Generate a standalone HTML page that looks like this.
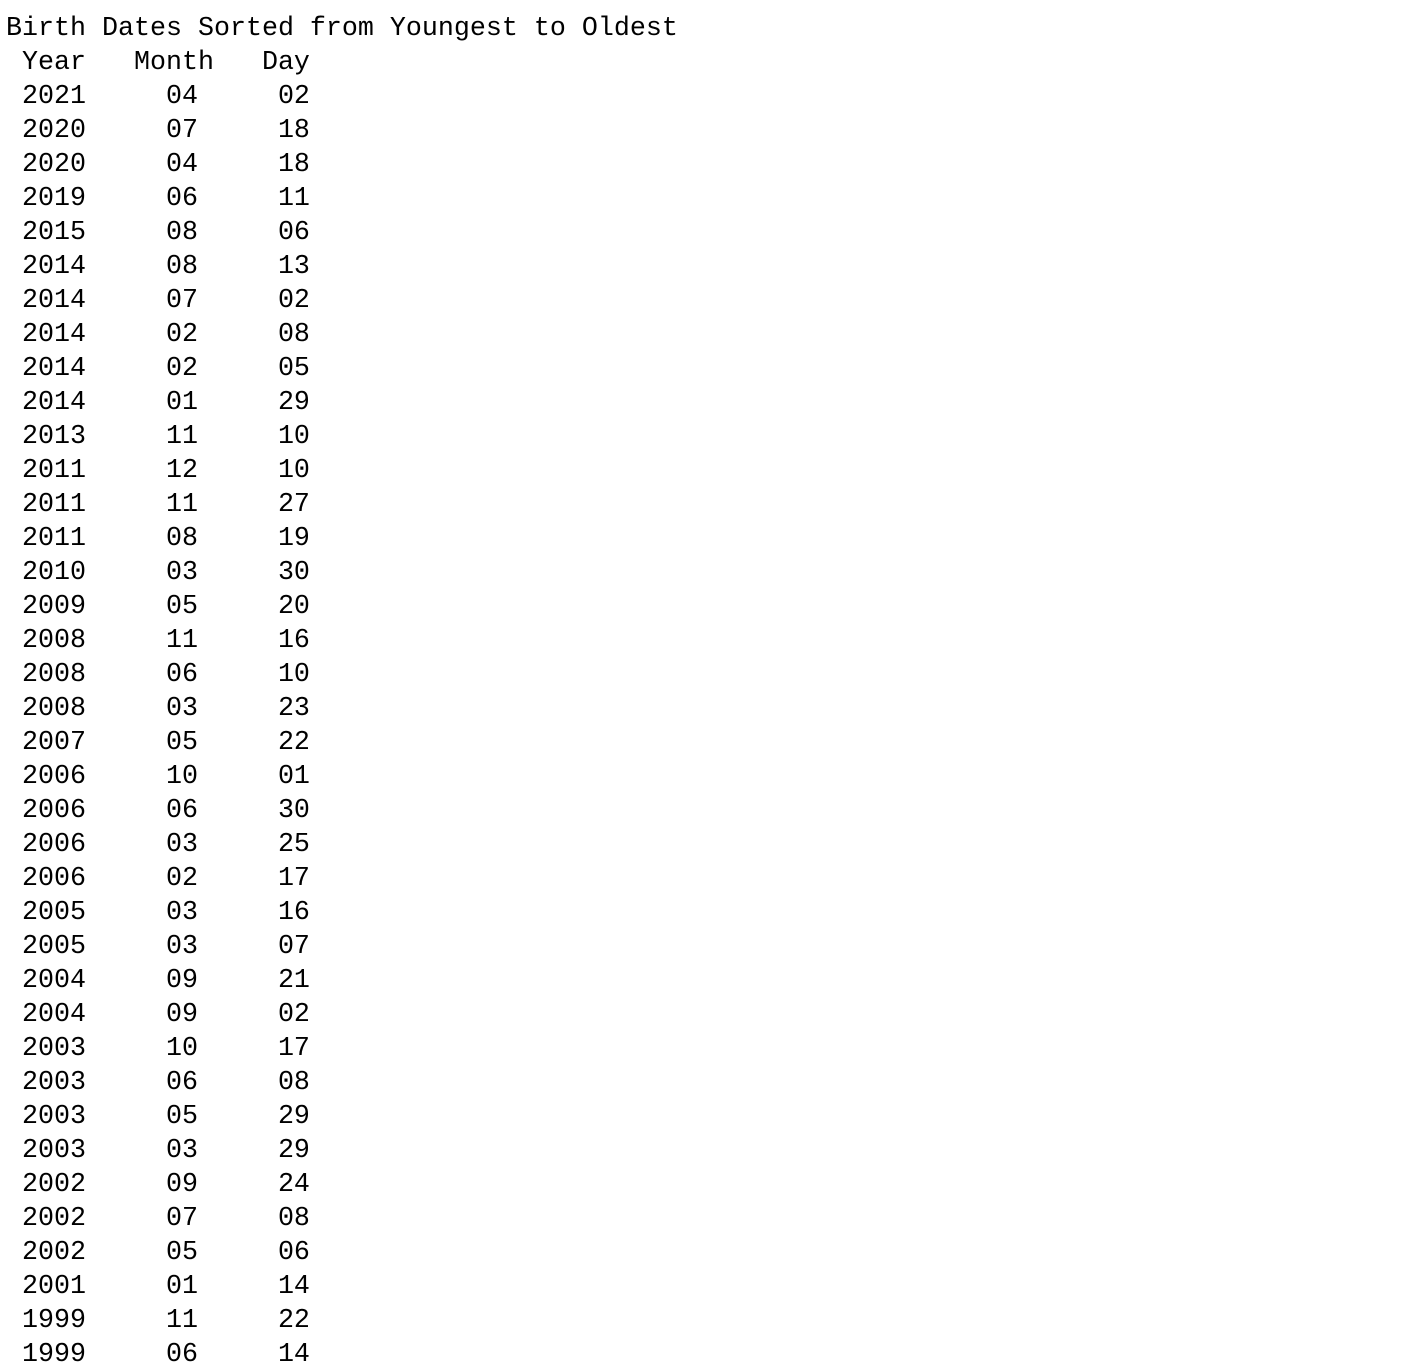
<!DOCTYPE html>
<html>
<head>
<meta charset="utf-8">
<style>
  html, body { margin: 0; padding: 0; background: #fff; width: 1408px; height: 1354px; overflow: hidden; }
  pre {
    margin: 0;
    position: absolute;
    left: 6px;
    top: 12px;
    font-family: "Liberation Mono", "DejaVu Sans Mono", monospace;
    font-size: 26.67px;
    line-height: 34px;
    color: #000;
  }
</style>
</head>
<body>
<pre>Birth Dates Sorted from Youngest to Oldest
 Year   Month   Day
 2021     04     02
 2020     07     18
 2020     04     18
 2019     06     11
 2015     08     06
 2014     08     13
 2014     07     02
 2014     02     08
 2014     02     05
 2014     01     29
 2013     11     10
 2011     12     10
 2011     11     27
 2011     08     19
 2010     03     30
 2009     05     20
 2008     11     16
 2008     06     10
 2008     03     23
 2007     05     22
 2006     10     01
 2006     06     30
 2006     03     25
 2006     02     17
 2005     03     16
 2005     03     07
 2004     09     21
 2004     09     02
 2003     10     17
 2003     06     08
 2003     05     29
 2003     03     29
 2002     09     24
 2002     07     08
 2002     05     06
 2001     01     14
 1999     11     22
 1999     06     14</pre>
</body>
</html>
